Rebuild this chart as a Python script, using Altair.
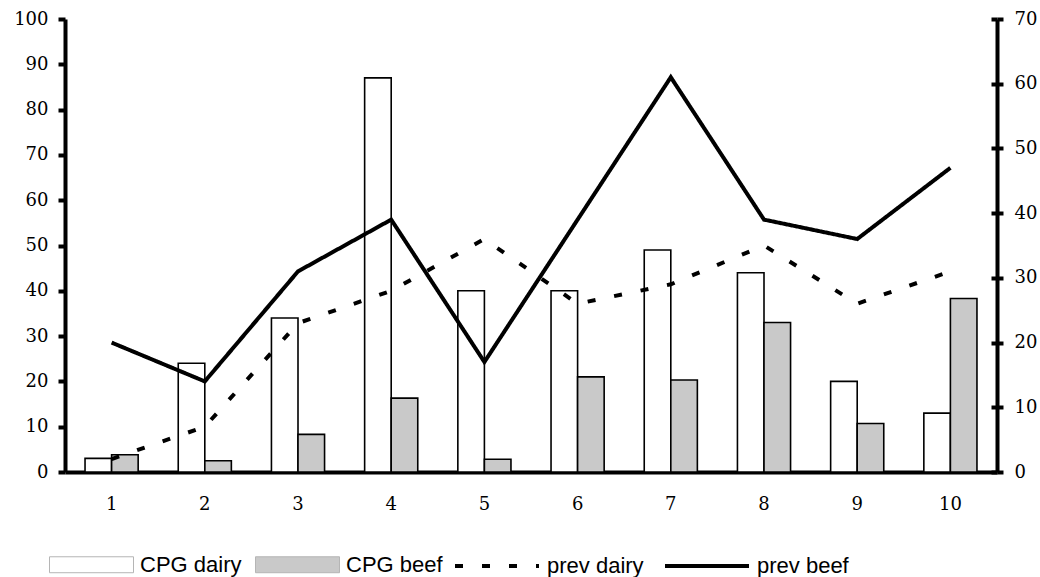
import altair as alt
import pandas as pd

categories = ["1", "2", "3", "4", "5", "6", "7", "8", "9", "10"]
cpg_dairy = [3, 24, 34, 87, 40, 40, 49, 44, 20, 13]
cpg_beef = [3.8, 2.5, 8.3, 16.3, 2.8, 21, 20.3, 33, 10.7, 38.3]
prev_dairy = [2, 7, 23, 28, 36, 26, 29, 35, 26, 31]
prev_beef = [20, 14, 31, 39, 17, 39, 61, 39, 36, 47]

bar_series = ["CPG dairy", "CPG beef"]
line_series = ["prev dairy", "prev beef"]

bars_df = pd.DataFrame(
    [{"cat": c, "series": "CPG dairy", "value": v} for c, v in zip(categories, cpg_dairy)]
    + [{"cat": c, "series": "CPG beef", "value": v} for c, v in zip(categories, cpg_beef)]
)
lines_df = pd.DataFrame(
    [{"cat": c, "series": "prev dairy", "value": v} for c, v in zip(categories, prev_dairy)]
    + [{"cat": c, "series": "prev beef", "value": v} for c, v in zip(categories, prev_beef)]
)

SERIF = "DejaVu Serif"
SANS = "Liberation Sans"

x_enc = alt.X(
    "cat:O",
    sort=categories,
    scale=alt.Scale(paddingInner=0.43, paddingOuter=0.215),
    axis=alt.Axis(
        title=None, labelAngle=0, ticks=False, labelPadding=23,
        domainWidth=4, domainColor="black",
        labelFont=SERIF, labelFontSize=18, labelColor="black",
    ),
)

rect_path = "M-1,-0.19L1,-0.19L1,0.19L-1,0.19Z"

bars = alt.Chart(bars_df).mark_bar(stroke="black", strokeWidth=1.6).encode(
    x=x_enc,
    xOffset=alt.XOffset("series:N", sort=bar_series,
                        scale=alt.Scale(paddingInner=0, paddingOuter=0)),
    y=alt.Y(
        "value:Q",
        scale=alt.Scale(domain=[0, 100], nice=False),
        axis=alt.Axis(
            title=None, orient="left", values=list(range(0, 101, 10)),
            grid=False, domainWidth=4, domainColor="black",
            tickSize=7, tickWidth=4, tickColor="black", labelPadding=10,
            labelFont=SERIF, labelFontSize=18, labelColor="black",
        ),
    ),
    fill=alt.Fill(
        "series:N",
        scale=alt.Scale(domain=bar_series, range=["white", "#c9c9c9"]),
        legend=alt.Legend(
            title=None, orient="none", direction="horizontal",
            legendX=-16, legendY=503,
            symbolType=rect_path, symbolSize=7056,
            symbolStrokeColor="#b5b5b5", symbolStrokeWidth=1,
            labelFont=SANS, labelFontSize=22, labelColor="black",
            labelOffset=6, columnPadding=11,
        ),
    ),
)

lines = alt.Chart(lines_df).mark_line(color="black", strokeWidth=4).encode(
    x=alt.X("cat:O", sort=categories),
    y=alt.Y(
        "value:Q",
        scale=alt.Scale(domain=[0, 70], nice=False),
        axis=alt.Axis(
            title=None, orient="right", values=list(range(0, 71, 10)),
            grid=False, domainWidth=4, domainColor="black",
            tickSize=6, tickWidth=4, tickColor="black", labelPadding=11,
            labelFont=SERIF, labelFontSize=18, labelColor="black",
        ),
    ),
    strokeDash=alt.StrokeDash(
        "series:N",
        scale=alt.Scale(domain=line_series, range=[[8, 19], [1, 0]]),
        legend=alt.Legend(
            title=None, orient="none", direction="horizontal",
            legendX=388, legendY=503,
            symbolType="stroke", symbolSize=7056,
            symbolStrokeColor="black", symbolStrokeWidth=4,
            labelFont=SANS, labelFontSize=22, labelColor="black",
            labelOffset=6, columnPadding=13,
        ),
    ),
)

inner_ticks = alt.Chart(lines_df).mark_line(opacity=0).encode(
    x=alt.X("cat:O", sort=categories),
    y=alt.Y(
        "value:Q",
        scale=alt.Scale(domain=[0, 70], nice=False),
        axis=alt.Axis(
            title=None, orient="left", offset=-932, values=list(range(0, 71, 10)),
            grid=False, domain=False, labels=False,
            tickSize=6, tickWidth=4, tickColor="black",
        ),
    ),
    detail="series:N",
)

chart = (
    alt.layer(bars, lines, inner_ticks)
    .resolve_scale(y="independent")
    .properties(
        width=932, height=453,
        padding={"left": 65, "top": 19, "right": 43, "bottom": 105},
        autosize=alt.AutoSizeParams(type="none"),
        background="white",
    )
    .configure_view(stroke=None)
)

chart.save("out.html", embed_options={"renderer": "svg", "actions": False})
